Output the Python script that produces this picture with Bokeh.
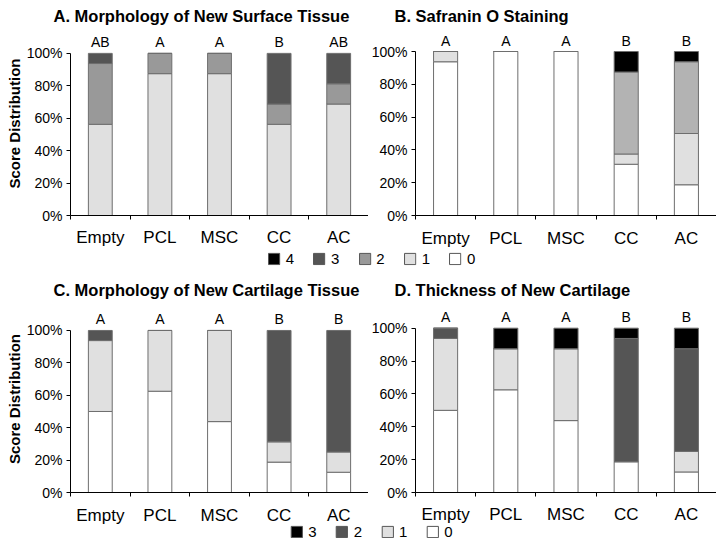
from bokeh.plotting import figure
from bokeh.layouts import column, row
from bokeh.models import (FixedTicker, Range1d, Legend, LegendItem, ColumnDataSource,
                          PrintfTickFormatter)
from bokeh.core.properties import value
from bokeh.embed import file_html
from bokeh.resources import INLINE

FONT = "Liberation Sans"

categories = ["Empty", "PCL", "MSC", "CC", "AC"]

# A. Morphology of New Surface Tissue (scores 1, 2, 3)
a_score1 = [56.25, 87.5, 87.5, 56.25, 68.75]
a_score2 = [37.5, 12.5, 12.5, 12.5, 12.5]
a_score3 = [6.25, 0, 0, 31.25, 18.75]
a_letters = ["AB", "A", "A", "B", "AB"]

# B. Safranin O Staining (scores 0, 1, 2, 4)
b_score0 = [93.75, 100, 100, 31.25, 18.75]
b_score1 = [6.25, 0, 0, 6.25, 31.25]
b_score2 = [0, 0, 0, 50, 43.75]
b_score4 = [0, 0, 0, 12.5, 6.25]
b_letters = ["A", "A", "A", "B", "B"]

# C. Morphology of New Cartilage Tissue (scores 0, 1, 2)
c_score0 = [50, 62.5, 43.75, 18.75, 12.5]
c_score1 = [43.75, 37.5, 56.25, 12.5, 12.5]
c_score2 = [6.25, 0, 0, 68.75, 75]
c_letters = ["A", "A", "A", "B", "B"]

# D. Thickness of New Cartilage (scores 0, 1, 2, 3)
d_score0 = [50, 62.5, 43.75, 18.75, 12.5]
d_score1 = [43.75, 25, 43.75, 0, 12.5]
d_score2 = [6.25, 0, 0, 75, 62.5]
d_score3 = [0, 12.5, 12.5, 6.25, 12.5]
d_letters = ["A", "A", "A", "B", "B"]

legend_top_labels = ["4", "3", "2", "1", "0"]
legend_bottom_labels = ["3", "2", "1", "0"]

WHITE = "#ffffff"
LIGHT = "#e0e0e0"
MID = "#999999"
MIDB = "#b3b3b3"
DARK = "#555555"
BLACK = "#000000"
EDGE = "#6e6e6e"


def panel(title, stacks, colors, letters, width, height, mb_left, mb_top, mb_bottom,
          y_end, ylabel=None, title_offset=0, title_standoff=12, x_standoff=8):
    xs = [i + 0.5 for i in range(len(categories))]
    data = {"x": xs}
    names = []
    for k, s in enumerate(stacks):
        data["s%d" % k] = s
        names.append("s%d" % k)
    data["total"] = [sum(v) for v in zip(*stacks)]
    data["letter"] = letters
    src = ColumnDataSource(data)

    p = figure(width=width, height=height, output_backend="svg", toolbar_location=None,
               x_range=Range1d(0, len(categories)), y_range=Range1d(0, y_end),
               min_border_left=mb_left, min_border_right=0, min_border_top=mb_top,
               min_border_bottom=mb_bottom)
    p.outline_line_color = None
    p.grid.visible = False
    p.background_fill_color = "white"
    p.border_fill_color = "white"

    p.title.text = title
    p.title.text_font = FONT
    p.title.text_font_size = "16.5px"
    p.title.text_font_style = "bold"
    p.title.text_color = "black"
    p.title.align = "left"
    p.title.offset = title_offset
    p.title.standoff = title_standoff

    p.vbar_stack(names, x="x", width=0.4, source=src, fill_color=colors,
                 line_color=EDGE, line_width=1)
    p.text(x="x", y="total", text="letter", source=src, text_align="center",
           text_baseline="bottom", y_offset=-3, text_font=value(FONT),
           text_font_size="14px", text_color="black")

    # y axis
    ya = p.yaxis[0]
    ya.ticker = FixedTicker(ticks=[0, 20, 40, 60, 80, 100], minor_ticks=[])
    ya.formatter = PrintfTickFormatter(format="%d%%")
    ya.bounds = (0, 100)
    ya.major_tick_out = 4
    ya.major_tick_in = 0
    ya.minor_tick_out = 0
    ya.minor_tick_in = 0
    ya.major_label_standoff = 4
    ya.major_label_text_font = FONT
    ya.major_label_text_font_size = "14px"
    ya.major_label_text_color = "black"
    ya.axis_line_color = "black"
    ya.major_tick_line_color = "black"
    if ylabel:
        ya.axis_label = ylabel
        ya.axis_label_text_font = FONT
        ya.axis_label_text_font_size = "15px"
        ya.axis_label_text_font_style = "bold"
        ya.axis_label_standoff = 1
        ya.axis_label_text_color = "black"

    # x axis: labels at category centres, ticks at boundaries
    xa = p.xaxis[0]
    xa.ticker = FixedTicker(ticks=xs, minor_ticks=list(range(len(categories) + 1)))
    xa.major_label_overrides = {x: c for x, c in zip(xs, categories)}
    xa.major_tick_out = 0
    xa.major_tick_in = 0
    xa.minor_tick_out = 4
    xa.minor_tick_in = 0
    xa.minor_tick_line_color = "black"
    xa.axis_line_color = "black"
    xa.major_label_standoff = x_standoff
    xa.major_label_text_font = FONT
    xa.major_label_text_font_size = "17px"
    xa.major_label_text_color = "black"
    return p


def legend_fig(labels, colors, width, height, mb_left, mb_bottom=0):
    p = figure(width=width, height=height, output_backend="svg", toolbar_location=None,
               x_range=Range1d(0, 1), y_range=Range1d(0, 1),
               min_border_left=mb_left, min_border_right=0, min_border_top=0,
               min_border_bottom=mb_bottom)
    p.axis.visible = False
    p.grid.visible = False
    p.outline_line_color = None
    p.background_fill_alpha = 0
    p.border_fill_alpha = 0
    items = []
    for lab, col in zip(labels, colors):
        # hidden bar renderer: only its legend swatch is shown
        r = p.vbar(x=[0.5], top=[1], width=0.1, fill_color=col, line_color="#555555",
                   visible=False)
        items.append(LegendItem(label=lab, renderers=[r]))
    lg = Legend(items=items, orientation="horizontal", location="center",
                glyph_width=14, glyph_height=14, label_standoff=5, spacing=18,
                label_width=8, label_height=14,
                label_text_font=FONT, label_text_font_size="15px",
                label_text_color="black", inactive_fill_alpha=0,
                border_line_color=None, background_fill_alpha=0, padding=0, margin=0)
    p.add_layout(lg, "center")
    return p


pA = panel("A. Morphology of New Surface Tissue", [a_score1, a_score2, a_score3],
           [LIGHT, MID, DARK], a_letters, 368, 256, 70, 37, 34, 113.5,
           ylabel="Score Distribution", title_offset=-17, title_standoff=14,
           x_standoff=8)
pB = panel("B. Safranin O Staining", [b_score0, b_score1, b_score2, b_score4],
           [WHITE, LIGHT, MIDB, BLACK], b_letters, 348, 256, 47, 37, 35, 112.2,
           title_offset=-21, title_standoff=14, x_standoff=9)
pC = panel("C. Morphology of New Cartilage Tissue", [c_score0, c_score1, c_score2],
           [WHITE, LIGHT, DARK], c_letters, 368, 265, 70, 36, 42, 115.4,
           ylabel="Score Distribution", title_offset=-17, title_standoff=13,
           x_standoff=9)
pD = panel("D. Thickness of New Cartilage", [d_score0, d_score1, d_score2, d_score3],
           [WHITE, LIGHT, DARK, BLACK], d_letters, 348, 265, 47, 36, 39, 113.8,
           title_offset=-21, title_standoff=13, x_standoff=8)

leg1 = legend_fig(legend_top_labels, [BLACK, DARK, MID, LIGHT, WHITE], 716, 21, 21,
                  mb_bottom=5)
leg2 = legend_fig(legend_bottom_labels, [BLACK, DARK, LIGHT, WHITE], 716, 14, 26)
leg2.margin = (-10, 0, 0, 0)

top_row = row(pA, pB, spacing=0)
top_row.margin = (-6, 0, 0, 0)
bottom_row = row(pC, pD, spacing=0)
bottom_row.margin = (-2, 0, 0, 0)

layout = column(top_row, leg1, bottom_row, leg2, spacing=0)

open("out.html", "w").write(file_html(layout, INLINE))
